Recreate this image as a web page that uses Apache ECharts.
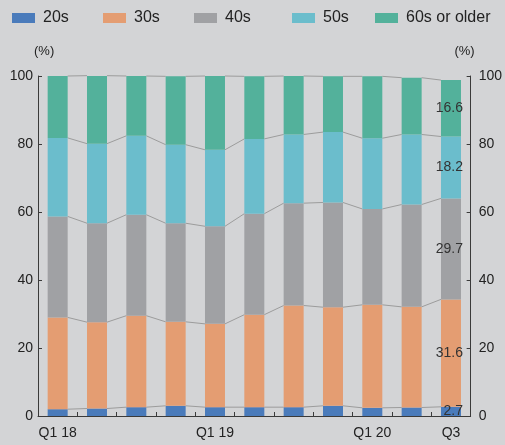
<!DOCTYPE html>
<html>
<head>
<meta charset="utf-8">
<script src="https://cdn.jsdelivr.net/npm/echarts@6/dist/echarts.min.js"></script>
<style>
html,body{margin:0;padding:0;background:#d3d4d6;}
#chart{width:505px;height:445px;}
</style>
</head>
<body>
<div id="chart"></div>
<script>
// ---- data ----
const categories = ['Q1 18','Q2 18','Q3 18','Q4 18','Q1 19','Q2 19','Q3 19','Q4 19','Q1 20','Q2 20','Q3 20'];
const tickLabels = ['Q1 18','','','','Q1 19','','','','Q1 20','','Q3'];
const yTicks = [0, 20, 40, 60, 80, 100];
const seriesNames = ['20s','30s','40s','50s','60s or older'];
const s20s   = [2.0, 2.2, 2.6, 3.0, 2.6, 2.6, 2.6, 3.0, 2.4, 2.5, 2.7];
const s30s   = [27.0, 25.4, 26.9, 24.7, 24.5, 27.2, 29.9, 29.0, 30.3, 29.6, 31.6];
const s40s   = [29.7, 29.1, 29.7, 29.0, 28.7, 29.7, 30.1, 30.8, 28.2, 30.1, 29.7];
const s50s   = [23.1, 23.4, 23.2, 23.1, 22.5, 22.0, 20.2, 20.7, 20.8, 20.6, 18.2];
const s60s   = [18.2, 20.0, 17.6, 20.1, 21.7, 18.4, 17.2, 16.4, 18.2, 16.7, 16.6];

// ---- styles ----
const colors = ['#4a7bbb','#e49d72','#a0a1a4','#6bbdcc','#53b19b'];
const BAR_W = 20;
const FONT = 'Liberation Sans, Arial, sans-serif';
const AXIS_C = '#3a3a3a';
const TEXT_C = '#222';
const legendLeft = [7, 98, 189, 287, 370];

const allSeries = [s20s, s30s, s40s, s50s, s60s];
const n = categories.length;
const last = n - 1;

// cumulative levels
const cum = [];
let run = new Array(n).fill(0);
allSeries.forEach(s => {
  run = run.map((r, i) => r + s[i]);
  cum.push(run.slice());
});

const chart = echarts.init(document.getElementById('chart'), null, {renderer: 'canvas'});

const barSeries = allSeries.map((s, k) => ({
  name: seriesNames[k],
  type: 'bar',
  stack: 'total',
  barWidth: BAR_W,
  itemStyle: {color: colors[k]},
  z: 3,
  data: s.map((v, i) => i === last ? {
    value: v,
    label: {
      show: true, position: 'insideRight', distance: -2,
      formatter: (p) => p.value.toFixed(1),
      color: '#333', fontSize: 14, fontFamily: FONT
    }
  } : v)
}));

const connectorData = [];
for (let i = 0; i < n - 1; i++) connectorData.push([i, i + 1]);

const connectorSeries = {
  type: 'custom',
  silent: true,
  z: 1,
  data: connectorData,
  encode: {x: 0},
  renderItem: function (params, api) {
    const i = api.value(0), j = api.value(1);
    const children = cum.map(level => {
      const a = api.coord([i, level[i]]);
      const b = api.coord([j, level[j]]);
      return {
        type: 'line',
        shape: {x1: a[0] + BAR_W / 2, y1: a[1], x2: b[0] - BAR_W / 2, y2: b[1]},
        style: {stroke: '#9c9c9c', lineWidth: 1}
      };
    });
    return {type: 'group', children: children};
  }
};

const yAxisCommon = {
  type: 'value', min: yTicks[0], max: yTicks[yTicks.length - 1], interval: yTicks[1] - yTicks[0],
  splitLine: {show: false},
  axisLine: {show: true, lineStyle: {color: AXIS_C, width: 1}},
  axisTick: {show: true, inside: true, length: 4, lineStyle: {color: AXIS_C}},
  axisLabel: {color: TEXT_C, fontSize: 14, fontFamily: FONT},
  name: '(%)',
  nameLocation: 'end',
  nameGap: 18,
  nameTextStyle: {color: TEXT_C, fontSize: 13, fontFamily: FONT}
};

const option = {
  backgroundColor: '#d3d4d6',
  animation: false,
  color: colors,
  legend: seriesNames.map((name, k) => ({
    data: [name],
    left: legendLeft[k],
    top: 5,
    itemWidth: 23,
    itemHeight: 10,
    icon: 'rect',
    selectedMode: false,
    textStyle: {color: TEXT_C, fontSize: 16, fontFamily: FONT, padding: [0, 0, 0, 3]}
  })),
  grid: {left: 38, right: 33, top: 76, bottom: 29, containLabel: false},
  xAxis: {
    type: 'category',
    data: categories,
    axisLine: {show: true, lineStyle: {color: AXIS_C, width: 1}},
    axisTick: {show: true, inside: true, length: 4, interval: 0, alignWithLabel: false, lineStyle: {color: AXIS_C}},
    axisLabel: {
      interval: 0, margin: 10, color: TEXT_C, fontSize: 14, fontFamily: FONT,
      formatter: (v, i) => tickLabels[i]
    }
  },
  yAxis: [
    Object.assign({}, yAxisCommon, {
      position: 'left',
      axisLabel: Object.assign({}, yAxisCommon.axisLabel, {margin: 5}),
      nameTextStyle: Object.assign({}, yAxisCommon.nameTextStyle, {align: 'left', padding: [0, 0, 0, -4]})
    }),
    Object.assign({}, yAxisCommon, {
      position: 'right',
      axisLabel: Object.assign({}, yAxisCommon.axisLabel, {margin: 8}),
      nameTextStyle: Object.assign({}, yAxisCommon.nameTextStyle, {align: 'right', padding: [0, -4, 0, 0]})
    })
  ],
  series: [connectorSeries].concat(barSeries)
};

chart.setOption(option);
</script>
</body>
</html>
